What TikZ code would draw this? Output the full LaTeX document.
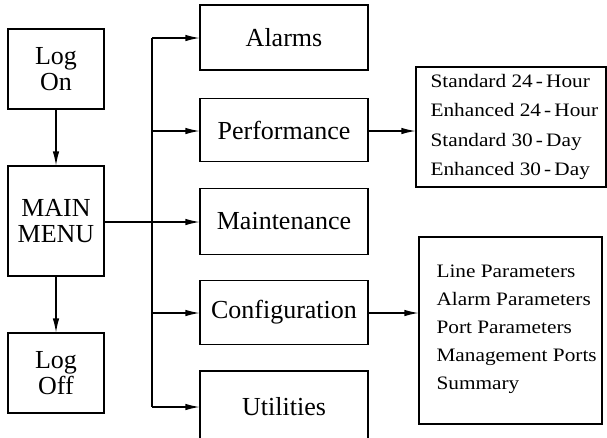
\documentclass[tikz,border=0pt]{standalone}
\usepackage{fontspec}
\setmainfont{Liberation Serif}
\newfontfamily\boxfont{Liberation Serif}
\newfontfamily\listfont[FakeStretch=1.12]{Liberation Serif}
\usetikzlibrary{arrows.meta}
\begin{document}
\begin{tikzpicture}[x=1pt,y=-1pt,
  line width=1.1pt,
  box/.style={draw, line width=1.1pt, inner sep=0pt, align=center,
    font=\boxfont\fontsize{26}{26}\selectfont},
  conn/.style={-{Latex[length=14pt,width=6.5pt]}, line width=1.1pt}
]
\useasboundingbox (0,0) rectangle (607,437);
\clip (0,0) rectangle (607,437);

% left column
\node[box, minimum width=96pt, minimum height=80pt] (logon) at (56,69)
  {\boxfont\fontsize{26}{22}\selectfont Log\\On};
\node[box, minimum width=96pt, minimum height=110pt] (main) at (56,221)
  {\boxfont\fontsize{26}{32}\selectfont MAIN\\MENU};
\node[box, minimum width=96pt, minimum height=80pt] (logoff) at (56,373)
  {\boxfont\fontsize{26}{20}\selectfont Log\\Off};

% middle column
\node[box, minimum width=168pt, minimum height=65pt] (alarms) at (284,37.5) {Alarms};
\node[box, minimum width=168pt, minimum height=63pt] (perf) at (284,130) {Performance};
\node[box, minimum width=168pt, minimum height=66pt] (maint) at (284,221.5) {Maintenance};
\node[box, minimum width=168pt, minimum height=64pt] (config) at (284,312.5) {Configuration};
\node[box, minimum width=168pt, minimum height=72pt] (util) at (284,407) {Utilities};

% right lists
\node[draw, line width=1.1pt, minimum width=190pt, minimum height=120pt,
  inner sep=0pt] (plist) at (511,127) {};
\node[anchor=west, inner sep=0pt, align=left,
  font=\listfont\fontsize{19}{29.3}\selectfont] (ptext) at (430,127)
  {Standard 24\,-\,Hour\\Enhanced 24\,-\,Hour\\Standard 30\,-\,Day\\Enhanced 30\,-\,Day};

\node[draw, line width=1.1pt, minimum width=183pt, minimum height=187pt,
  inner sep=0pt] (clist) at (510.5,330.5) {};
\node[anchor=west, inner sep=0pt, align=left,
  font=\listfont\fontsize{19}{28}\selectfont] (ctext) at (436,329)
  {Line Parameters\\Alarm Parameters\\Port Parameters\\Management Ports\\Summary};

% bus
\coordinate (bustop) at (152,38);
\coordinate (busbot) at (152,407);
\draw (bustop) -- (busbot);

% connectors
\draw[conn] (logon) -- (main);
\draw[conn] (main) -- (logoff);
\draw[conn] (main.east |- 0,222) -- (maint.west |- 0,222);
\draw[conn] (bustop) -- (alarms.west |- bustop);
\draw[conn] (152,131) -- (perf.west |- 0,131);
\draw[conn] (152,313) -- (config.west |- 0,313);
\draw[conn] (busbot) -- (util.west |- busbot);
\draw[conn] (perf.east |- 0,131) -- (plist.west |- 0,131);
\draw[conn] (config.east |- 0,313) -- (clist.west |- 0,313);
\end{tikzpicture}
\end{document}
